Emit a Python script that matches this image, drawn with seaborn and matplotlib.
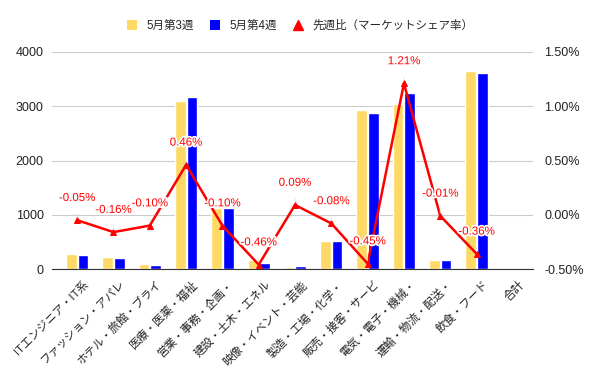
import matplotlib
matplotlib.use("Agg")
import matplotlib.pyplot as plt
import seaborn as sns
import pandas as pd
import numpy as np
from matplotlib.lines import Line2D
from matplotlib.patches import Patch
import matplotlib.patheffects as pe
from matplotlib.transforms import ScaledTranslation

categories = ["ITエンジニア・IT系", "ファッション・アパレ", "ホテル・旅館・ブライ", "医療・医薬・福祉",
              "営業・事務・企画・", "建設・土木・エネル", "映像・イベント・芸能", "製造・工場・化学・",
              "販売・接客・サービ", "電気・電子・機械・", "運輸・物流・配送・", "飲食・フード", "合計"]
week3 = [280, 220, 95, 3095, 1120, 170, 40, 520, 2930, 3040, 165, 3650, 0]
week4 = [260, 200, 70, 3165, 1120, 110, 60, 520, 2875, 3250, 170, 3615, 0]
share_change = [-0.05, -0.16, -0.10, 0.46, -0.10, -0.46, 0.09, -0.08, -0.45, 1.21, -0.01, -0.36, np.nan]
series_names = ["5月第3週", "5月第4週"]
line_name = "先週比（マーケットシェア率）"

sns.set_style("white")
plt.rcParams['font.family'] = ['Liberation Sans', 'Noto Sans CJK JP', 'DejaVu Sans']

c_yellow = "#FFD966"
c_blue = "#0000FF"
c_red = "#FF0000"

df = pd.DataFrame({
    "cat": categories * 2,
    "value": week3 + week4,
    "series": [series_names[0]] * len(categories) + [series_names[1]] * len(categories),
})

fig = plt.figure(figsize=(6, 3.71), dpi=100)
ax = fig.add_axes([52 / 600, 1 - 269 / 371, 481 / 600, 217 / 371])
sns.barplot(data=df, x="cat", y="value", hue="series", palette=[c_yellow, c_blue],
            ax=ax, width=0.64, gap=0.08, legend=False, saturation=1)
n = len(categories)
xlim = (-0.5 - 7 / 36.3, n - 0.5 + 2 / 36.3)
ax.set_ylim(0, 4000)
ax.set_yticks([0, 1000, 2000, 3000, 4000])
ax.set_xlim(*xlim)
ax.set_xlabel("")
ax.set_ylabel("")
ax.grid(axis="y", color="#cccccc", linewidth=0.8)
ax.set_axisbelow(True)
for s in ["top", "right", "left"]:
    ax.spines[s].set_visible(False)
ax.spines["bottom"].set_color("#333333")
ax.tick_params(axis="y", labelsize=9, length=0, colors="#222222", pad=6)
ax.tick_params(axis="x", length=0, pad=4)
ax.set_xticks(range(n))
ax.set_xticklabels(categories, rotation=45, ha="right", rotation_mode="anchor", fontsize=8.2, color="#222222")
off = ScaledTranslation(6 / 100, -4 / 100, fig.dpi_scale_trans)
for lbl in ax.get_xticklabels():
    lbl.set_transform(lbl.get_transform() + off)

ax2 = ax.twinx()
ldf = pd.DataFrame({"x": np.arange(n), "y": share_change})
sns.lineplot(data=ldf, x="x", y="y", ax=ax2, color=c_red, linewidth=1.8,
             marker="^", markersize=4.5, markeredgecolor=c_red)
ax2.set_ylim(-0.5, 1.5)
ax2.set_yticks([-0.5, 0, 0.5, 1.0, 1.5])
ax2.set_yticklabels([f"{v:.2f}%" for v in [-0.5, 0, 0.5, 1.0, 1.5]])
ax2.tick_params(axis="y", labelsize=9, length=0, colors="#222222", pad=8)
ax2.set_xlabel("")
ax2.set_ylabel("")
for s in ax2.spines.values():
    s.set_visible(False)
ax2.set_xlim(*xlim)

for i, v in enumerate(share_change):
    if np.isnan(v):
        continue
    ax2.annotate(f"{v:.2f}%", xy=(i, v), xytext=(0, 16), textcoords="offset points",
                 ha="center", va="center", fontsize=8.3, color=c_red,
                 path_effects=[pe.withStroke(linewidth=2.5, foreground="white")],
                 arrowprops=dict(arrowstyle="-", color="#dddddd", linewidth=0.6, shrinkA=5, shrinkB=2))

handles = [Patch(facecolor=c_yellow, edgecolor="none"),
           Patch(facecolor=c_blue, edgecolor="none"),
           Line2D([], [], color=c_red, marker="^", linestyle="none", markersize=7)]
fig.legend(handles, series_names + [line_name], loc="center", bbox_to_anchor=(0.5, 0.93),
           ncol=3, frameon=False, fontsize=8.3, handlelength=0.9, handleheight=0.9,
           columnspacing=1.4, handletextpad=0.8)

fig.savefig("out.png", dpi=100)
